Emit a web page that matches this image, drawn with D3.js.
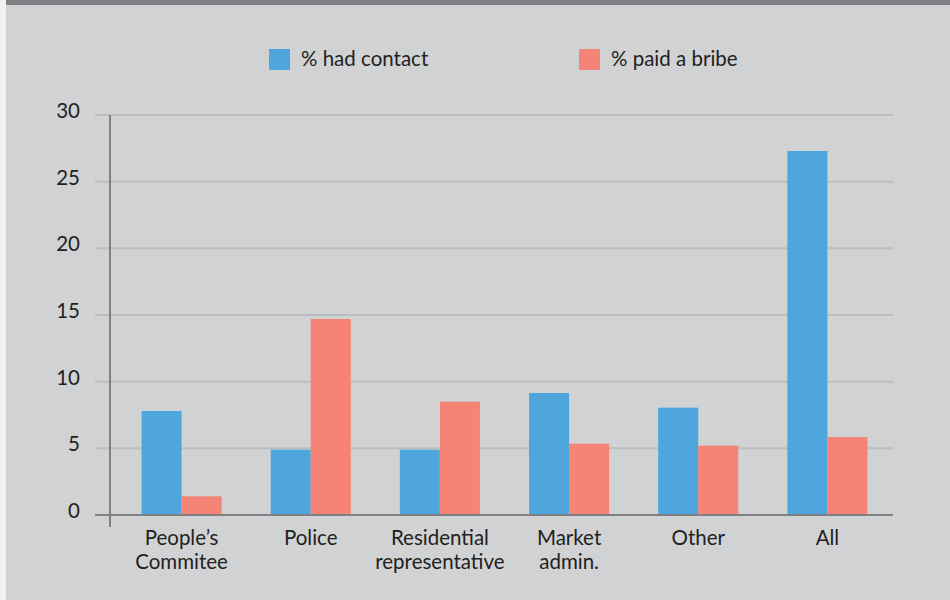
<!DOCTYPE html>
<html>
<head>
<meta charset="utf-8">
<script src="https://cdn.jsdelivr.net/npm/d3@7"></script>
<style>
  body { margin: 0; background: #f2f2f2; }
  svg { display: block; font-family: Lato, "Open Sans", sans-serif; }
</style>
</head>
<body>
<script>
// data
var categories = [["People\u2019s", "Commitee"], ["Police"], ["Residential", "representative"], ["Market", "admin."], ["Other"], ["All"]];
var hadContact = [7.8, 4.9, 4.9, 9.15, 8.05, 27.3];
var paidBribe = [1.4, 14.7, 8.5, 5.35, 5.2, 5.85];
var seriesNames = ["% had contact", "% paid a bribe"];
var colors = ["#4fa6dc", "#f58476"];
var yTicks = [0, 5, 10, 15, 20, 25, 30];

var W = 950, H = 600;
var svg = d3.select("body").append("svg").attr("width", W).attr("height", H);

svg.append("rect").attr("x", 6).attr("y", 0).attr("width", W - 6).attr("height", H).attr("fill", "#d1d2d4");
svg.append("rect").attr("x", 6).attr("y", 0).attr("width", W - 6).attr("height", 5).attr("fill", "#7f8084");

var x = d3.scaleBand().domain(d3.range(categories.length)).range([117, 892]).paddingInner(0.38).paddingOuter(0.19);
var y = d3.scaleLinear().domain([0, 30]).range([515, 115]);

// gridlines
svg.selectAll("line.grid").data(yTicks.slice(1)).enter().append("line")
  .attr("x1", 95).attr("x2", 893)
  .attr("y1", function(d) { return y(d); }).attr("y2", function(d) { return y(d); })
  .attr("stroke", "#bcbdc0").attr("stroke-width", 2);

// y labels
svg.selectAll("text.yt").data(yTicks).enter().append("text")
  .attr("x", 80).attr("y", function(d) { return y(d) + 3; })
  .attr("text-anchor", "end").attr("font-size", 20.5).attr("fill", "#231f20")
  .text(function(d) { return d; });

// bars
var groups = svg.selectAll("g.cat").data(categories).enter().append("g")
  .attr("transform", function(d, i) { return "translate(" + x(i) + ",0)"; });
var bw = x.bandwidth() / 2;
groups.append("rect")
  .attr("x", 0).attr("width", bw)
  .attr("y", function(d, i) { return y(hadContact[i]); })
  .attr("height", function(d, i) { return y(0) - y(hadContact[i]); })
  .attr("fill", colors[0]);
groups.append("rect")
  .attr("x", bw).attr("width", bw)
  .attr("y", function(d, i) { return y(paidBribe[i]); })
  .attr("height", function(d, i) { return y(0) - y(paidBribe[i]); })
  .attr("fill", colors[1]);

// axes
svg.append("line").attr("x1", 95).attr("x2", 893).attr("y1", y(0)).attr("y2", y(0))
  .attr("stroke", "#808083").attr("stroke-width", 2);
svg.append("line").attr("x1", 110).attr("x2", 110).attr("y1", 115).attr("y2", 527)
  .attr("stroke", "#808083").attr("stroke-width", 2);

// x labels
groups.each(function(d) {
  var t = d3.select(this).append("text")
    .attr("x", x.bandwidth() / 2).attr("y", 545)
    .attr("text-anchor", "middle").attr("font-size", 20.5).attr("fill", "#231f20");
  d.forEach(function(line, k) {
    t.append("tspan").attr("x", x.bandwidth() / 2).attr("dy", k ? 23.5 : 0).text(line);
  });
});

// legend
var legX = [269, 579];
seriesNames.forEach(function(name, i) {
  svg.append("rect").attr("x", legX[i]).attr("y", 49).attr("width", 21).attr("height", 21).attr("fill", colors[i]);
  svg.append("text").attr("x", legX[i] + 32).attr("y", 66).attr("font-size", 20.5).attr("fill", "#231f20").text(name);
});
</script>
</body>
</html>
